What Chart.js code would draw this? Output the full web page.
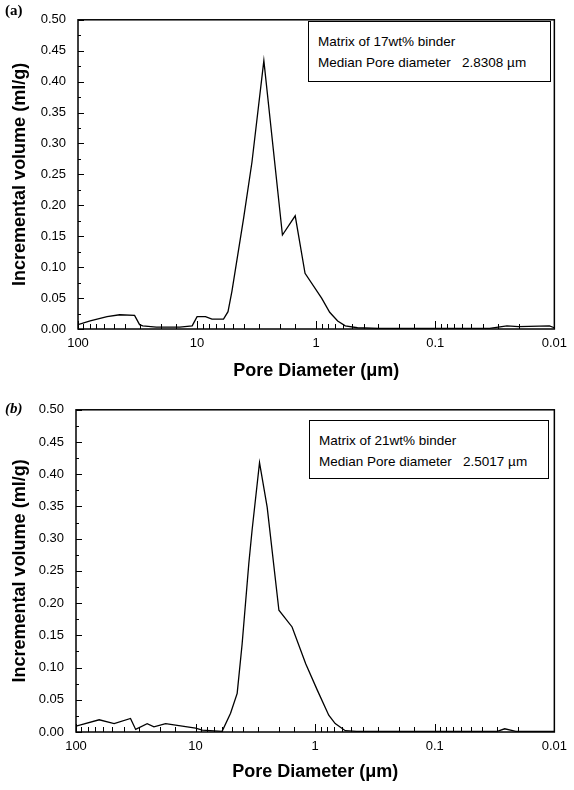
<!DOCTYPE html>
<html>
<head>
<meta charset="utf-8">
<script src="https://cdn.jsdelivr.net/npm/chart.js@4.4.0/dist/chart.umd.min.js"></script>
<style>
  html, body { margin: 0; padding: 0; background: #fff; }
  body { width: 574px; height: 790px; position: relative; overflow: hidden; font-family: "Liberation Sans", Arial, sans-serif; }
  .panel { position: absolute; left: 0; width: 574px; }
  #panelA { top: 0; height: 390px; }
  #panelB { top: 390px; height: 400px; }
  .tag { position: absolute; font-family: "Liberation Serif", serif; font-weight: bold; font-size: 15px; color: #000; }
  .note { position: absolute; border: 1px solid #000; background: #fff; font-size: 13.5px; line-height: 21px; padding: 9px 0 0 9px; box-sizing: border-box; color: #000; white-space: pre; }
</style>
</head>
<body>
<div class="panel" id="panelA"><canvas id="chartA"></canvas></div>
<div class="panel" id="panelB"><canvas id="chartB"></canvas></div>

<div class="tag" style="left:5px; top:2px;">(a)</div>
<div class="tag" style="left:5px; top:400px; font-style: italic;">(b)</div>

<div class="note" style="left:308px; top:21px; width:243px; height:61px;">Matrix of 17wt% binder
Median Pore diameter   2.8308 µm</div>
<div class="note" style="left:309px; top:420px; width:240px; height:59px;">Matrix of 21wt% binder
Median Pore diameter   2.5017 µm</div>

<script>
// pore diameter (um) and incremental volume (ml/g)
const diameterA = [100, 79, 57, 44.7, 33.5, 30.4, 28.6, 22, 14, 11, 10, 8.5, 7.5, 6, 5.5, 5.1, 4.06, 3.46, 2.75, 1.92, 1.5, 1.24, 0.9, 0.77, 0.66, 0.57, 0.45, 0.3, 0.1, 0.035, 0.025, 0.02, 0.011, 0.01];
const volumeA   = [0.007, 0.013, 0.020, 0.023, 0.022, 0.007, 0.005, 0.003, 0.003, 0.005, 0.020, 0.020, 0.016, 0.016, 0.028, 0.061, 0.180, 0.270, 0.434, 0.152, 0.183, 0.090, 0.050, 0.027, 0.013, 0.005, 0.002, 0.001, 0.001, 0.001, 0.005, 0.004, 0.005, 0.002];

const diameterB = [100, 64, 48, 35, 31.7, 25.4, 22.3, 17.8, 10, 8.8, 6.0, 5.1, 4.49, 4.08, 3.59, 3.37, 2.92, 2.52, 2.01, 1.56, 1.2, 0.96, 0.77, 0.68, 0.56, 0.45, 0.1, 0.03, 0.026, 0.021, 0.01];
const volumeB   = [0.009, 0.019, 0.013, 0.021, 0.004, 0.013, 0.008, 0.013, 0.006, 0.003, 0.001, 0.029, 0.060, 0.137, 0.261, 0.313, 0.418, 0.349, 0.189, 0.163, 0.106, 0.065, 0.026, 0.013, 0.002, 0.001, 0.001, 0.001, 0.005, 0.001, 0.001];

const xTickValues = [100, 10, 1, 0.1, 0.01];
const xTickLabels = ['100', '10', '1', '0.1', '0.01'];

function isDecade(v) {
    const l = Math.log10(v);
    return Math.abs(l - Math.round(l)) < 1e-6;
}

function decadeLabel(v) {
    for (let i = 0; i < xTickValues.length; i++) {
        if (Math.abs(Math.log10(v) - Math.log10(xTickValues[i])) < 1e-6) return xTickLabels[i];
    }
    return '';
}

// inward tick marks + closed frame round the plot area
const frameTicks = {
    id: 'frameTicks',
    afterDraw(chart) {
        const { ctx, chartArea: a, scales: { x, y } } = chart;
        ctx.save();
        ctx.strokeStyle = '#000';
        ctx.lineWidth = 1;
        ctx.beginPath();
        x.ticks.forEach(t => {
            const px = Math.round(x.getPixelForValue(t.value)) + 0.5;
            const len = isDecade(t.value) ? 8 : 5;
            ctx.moveTo(px, a.bottom);
            ctx.lineTo(px, a.bottom - len);
        });
        const yt = y.ticks.map(t => t.value);
        yt.forEach((v, i) => {
            const py = Math.round(y.getPixelForValue(v)) + 0.5;
            ctx.moveTo(a.left, py);
            ctx.lineTo(a.left + 6, py);
            if (i < yt.length - 1) {
                const pm = Math.round(y.getPixelForValue((v + yt[i + 1]) / 2)) + 0.5;
                ctx.moveTo(a.left, pm);
                ctx.lineTo(a.left + 3, pm);
            }
        });
        ctx.stroke();
        ctx.lineWidth = 1.5;
        ctx.strokeRect(a.left, a.top, a.width, a.height);
        ctx.restore();
    }
};

function makePanel(canvasId, diameters, volumes, geo) {
    const ctx = document.getElementById(canvasId).getContext('2d');
    const points = diameters.map((d, i) => ({ x: d, y: volumes[i] }));

    return new Chart(ctx, {
        type: 'line',
        data: {
            datasets: [{
                data: points,
                borderColor: '#000',
                borderWidth: 1.3,
                pointRadius: 0,
                tension: 0,
                fill: false
            }]
        },
        options: {
            responsive: true,
            maintainAspectRatio: false,
            animation: false,
            events: [],
            layout: {
                padding: { top: geo.top, right: geo.right, bottom: 0, left: 0 }
            },
            plugins: {
                legend: { display: false },
                tooltip: { enabled: false }
            },
            scales: {
                x: {
                    type: 'logarithmic',
                    reverse: true,
                    min: 0.01,
                    max: 100,
                    grid: { display: false, drawTicks: false },
                    border: { display: false },
                    ticks: {
                        autoSkip: false,
                        maxRotation: 0,
                        padding: 7,
                        color: '#000',
                        font: { family: '"Liberation Sans", Arial, sans-serif', size: 13 },
                        callback: v => decadeLabel(v)
                    },
                    title: {
                        display: true,
                        text: 'Pore Diameter (\u03bcm)',
                        color: '#000',
                        font: { family: '"Liberation Sans", Arial, sans-serif', size: 18, weight: 'bold' },
                        padding: { top: 0, bottom: geo.titleBottom }
                    },
                    afterFit: s => { s.height = geo.xHeight; }
                },
                y: {
                    min: 0,
                    max: 0.5,
                    grid: { display: false, drawTicks: false },
                    border: { display: false },
                    ticks: {
                        stepSize: 0.05,
                        padding: 12,
                        color: '#000',
                        font: { family: '"Liberation Sans", Arial, sans-serif', size: 13 },
                        callback: v => v.toFixed(2)
                    },
                    title: {
                        display: true,
                        text: 'Incremental volume (ml/g)',
                        color: '#000',
                        font: { family: '"Liberation Sans", Arial, sans-serif', size: 18, weight: 'bold' },
                        padding: { top: 9, bottom: 0 }
                    },
                    afterFit: s => { s.width = geo.yWidth; }
                }
            }
        },
        plugins: [frameTicks]
    });
}

makePanel('chartA', diameterA, volumeA, { top: 9, right: 14, xHeight: 61, yWidth: 78, titleBottom: 8 });
makePanel('chartB', diameterB, volumeB, { top: 18, right: 16, xHeight: 58, yWidth: 76, titleBottom: 7 });
</script>
</body>
</html>
